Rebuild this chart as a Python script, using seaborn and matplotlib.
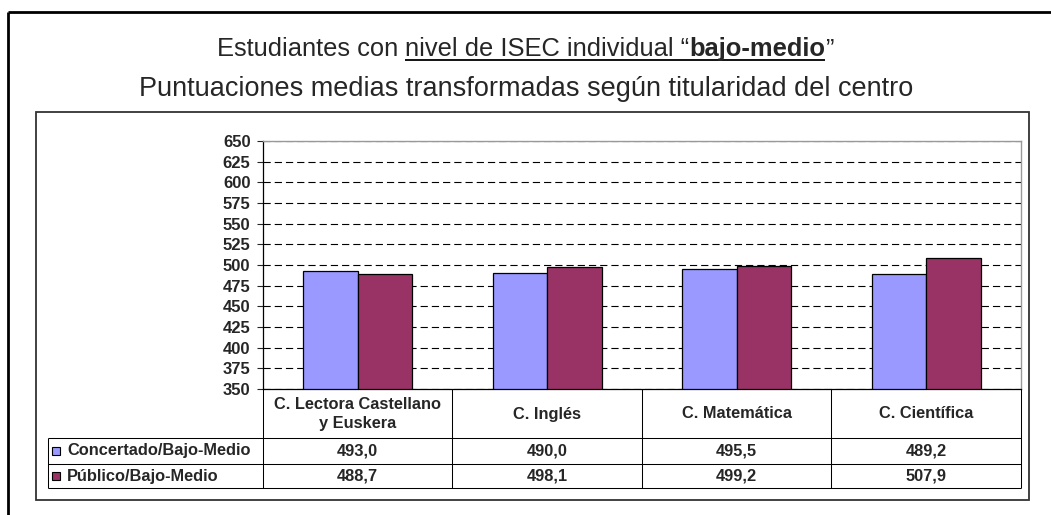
import matplotlib
matplotlib.use("Agg")
import matplotlib.pyplot as plt
import seaborn as sns
import pandas as pd
from matplotlib.lines import Line2D
from matplotlib.patches import Rectangle

# data
categories = ["C. Lectora Castellano\ny Euskera", "C. Inglés", "C. Matemática", "C. Científica"]
series = ["Concertado/Bajo-Medio", "Público/Bajo-Medio"]
concertado = [493.0, 490.0, 495.5, 489.2]
publico = [488.7, 498.1, 499.2, 507.9]
colors = ["#9999FF", "#993366"]
y_ticks = list(range(350, 651, 25))

df = pd.DataFrame({
    "Categoria": categories * 2,
    "Serie": [series[0]] * 4 + [series[1]] * 4,
    "Valor": concertado + publico,
})

sns.set_style("ticks")
plt.rcParams["font.family"] = ["Liberation Sans", "DejaVu Sans"]

W, H = 1051, 515
fig = plt.figure(figsize=(W / 100, H / 100), dpi=100)


def fx(x):
    return x / W


def fy(y):
    return 1 - y / H


def hline(x0, x1, y, color="black", lw=0.75):
    fig.add_artist(Line2D([fx(x0), fx(x1)], [fy(y), fy(y)], color=color, lw=lw, solid_capstyle="butt"))


def vline(x, y0, y1, color="black", lw=0.75):
    fig.add_artist(Line2D([fx(x), fx(x)], [fy(y0), fy(y1)], color=color, lw=lw, solid_capstyle="butt"))


# outer frame and chart box
hline(8, W + 5, 12, lw=2)
vline(8, 12, H + 5, lw=2)
fig.add_artist(Rectangle((fx(36), fy(500)), fx(1029) - fx(36), fy(112) - fy(500),
                         fill=False, edgecolor="#333333", lw=1.3))

# plot area
L, R, T, B = 263, 1021, 141, 389
ax = fig.add_axes([fx(L), fy(B), fx(R) - fx(L), fy(T) - fy(B)])
sns.barplot(data=df, x="Categoria", y="Valor", hue="Serie", palette=colors, saturation=1,
            width=0.575, gap=0, edgecolor="black", linewidth=0.9, legend=False, ax=ax)
ax.set_ylim(350, 650)
ax.set_yticks(y_ticks)
ax.set_xlim(-0.5, 3.5)
ax.yaxis.grid(True, color="black", lw=0.8, linestyle=(0, (6.5, 3.6)))
ax.set_axisbelow(True)
ax.set_xlabel("")
ax.set_ylabel("")
ax.tick_params(axis="x", bottom=False, labelbottom=False)
ax.tick_params(axis="y", length=4, width=0.8, pad=5, labelsize=12)
for lbl in ax.get_yticklabels():
    lbl.set_fontweight("bold")
for s in ["top", "right"]:
    ax.spines[s].set_color("#999999")
    ax.spines[s].set_linewidth(1)
for s in ["left", "bottom"]:
    ax.spines[s].set_color("black")
    ax.spines[s].set_linewidth(0.9)

# data table
col_edges = [263, 452, 642, 831, 1021]
rows_y = [389, 438, 464, 488]
for x in col_edges:
    vline(x, 389, 488)
vline(48, 438, 488)
for y in rows_y[1:]:
    hline(48, 1021, y)

tsize = 11.8
for i, cat in enumerate(categories):
    cx = (col_edges[i] + col_edges[i + 1]) / 2
    fig.text(fx(cx), fy(414), cat, ha="center", va="center", fontsize=tsize,
             fontweight="bold", linespacing=1.35)
    for r, vals in enumerate([concertado, publico]):
        cy = (rows_y[r + 1] + rows_y[r + 2]) / 2
        fig.text(fx(cx), fy(cy), f"{vals[i]:.1f}".replace(".", ","), ha="center", va="center",
                 fontsize=tsize, fontweight="bold")
for r, name in enumerate(series):
    cy = (rows_y[r + 1] + rows_y[r + 2]) / 2
    fig.add_artist(Rectangle((fx(52), fy(cy + 4)), fx(8), fy(cy - 4) - fy(cy + 4),
                             facecolor=colors[r], edgecolor="black", lw=0.8))
    fig.text(fx(67), fy(cy), name, ha="left", va="center", fontsize=tsize, fontweight="bold")

# titles
renderer = fig.canvas.get_renderer()
tsz = 18.4


def width_of(s, weight="normal"):
    t = fig.text(0, 0, s, fontsize=tsz, fontweight=weight)
    w = t.get_window_extent(renderer).width
    t.remove()
    return w


space = width_of("a a") - width_of("aa")
parts = [("Estudiantes con", "normal", False),
         ("nivel de ISEC individual \u201c", "normal", True),
         ("bajo-medio", "bold", True),
         ("\u201d", "normal", False)]
widths = [width_of(p[0], p[1]) for p in parts]
gaps = [space, 0, 0]
total = sum(widths) + sum(gaps)
x = 525 - total / 2
base1 = 56
u_start = u_end = None
for k, (s, weight, und) in enumerate(parts):
    fig.text(fx(x), fy(base1), s, ha="left", va="baseline", fontsize=tsz, fontweight=weight)
    if und:
        if u_start is None:
            u_start = x
        u_end = x + widths[k]
    x += widths[k] + (gaps[k] if k < len(gaps) else 0)
hline(u_start, u_end, base1 + 4, lw=1.3)

fig.text(fx(526), fy(96), "Puntuaciones medias transformadas según titularidad del centro",
         ha="center", va="baseline", fontsize=19.5)

fig.savefig("out.png", dpi=100)
